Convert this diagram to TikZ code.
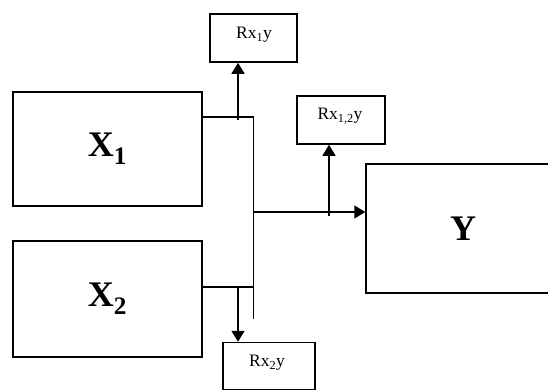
\documentclass[tikz,border=0pt]{standalone}
\usepackage{fontspec}
\setmainfont{Liberation Serif}
\usetikzlibrary{arrows.meta}
\begin{document}
\begin{tikzpicture}[x=1pt,y=-1pt,
  line width=1.5pt,
  bigbox/.style={draw, rectangle, inner sep=0pt, font=\fontsize{36}{40}\selectfont\bfseries},
  smallbox/.style={draw, rectangle, inner sep=0pt},
  smalltext/.style={inner sep=0pt, font=\fontsize{17.5}{20}\selectfont},
  flow/.style={-{Triangle[length=11pt,width=13pt]}},
]
\useasboundingbox (0,0) rectangle (548,391);

% main blocks
\node[bigbox, minimum width=189pt, minimum height=114pt] (x1) at (107.5,149) {X\textsubscript{1}};
\node[bigbox, minimum width=189pt, minimum height=116pt] (x2) at (107.5,299) {X\textsubscript{2}};
\node[bigbox, minimum width=194pt, minimum height=129pt] (y) at (463,228.5) {Y};

% correlation blocks
\node[smallbox, minimum width=87pt, minimum height=48pt] (r1) at (253.5,38) {};
\node[smalltext] (r1t) at (254,35) {Rx\textsubscript{1}y};
\node[smallbox, minimum width=88pt, minimum height=48pt] (r12) at (341,120) {};
\node[smalltext] (r12t) at (340,116) {Rx\textsubscript{1,2}y};
\node[smallbox, minimum width=92pt, minimum height=47pt] (r2) at (269,366) {};
\node[smalltext] (r2t) at (267,363) {Rx\textsubscript{2}y};

% junction points
\coordinate (j1) at (253.5,117);
\coordinate (j2) at (253.5,287);
\coordinate (jend) at (253.5,319);
\coordinate (jy) at (253.5,212);
\coordinate (t1) at (238,120);
\coordinate (t2) at (238,287);
\coordinate (t12) at (329,216);

% bus lines
\draw (x1.east |- j1) -- (j1) -- (jend);
\draw (x2.east |- j2) -- (j2);
\draw[flow] (jy) -- (y.west |- jy);

% taps
\draw[flow] (t1) -- (r1.south -| t1);
\draw[flow] (t2) -- (r2.north -| t2);
\draw[flow] (t12) -- (r12.south -| t12);
\end{tikzpicture}
\end{document}
